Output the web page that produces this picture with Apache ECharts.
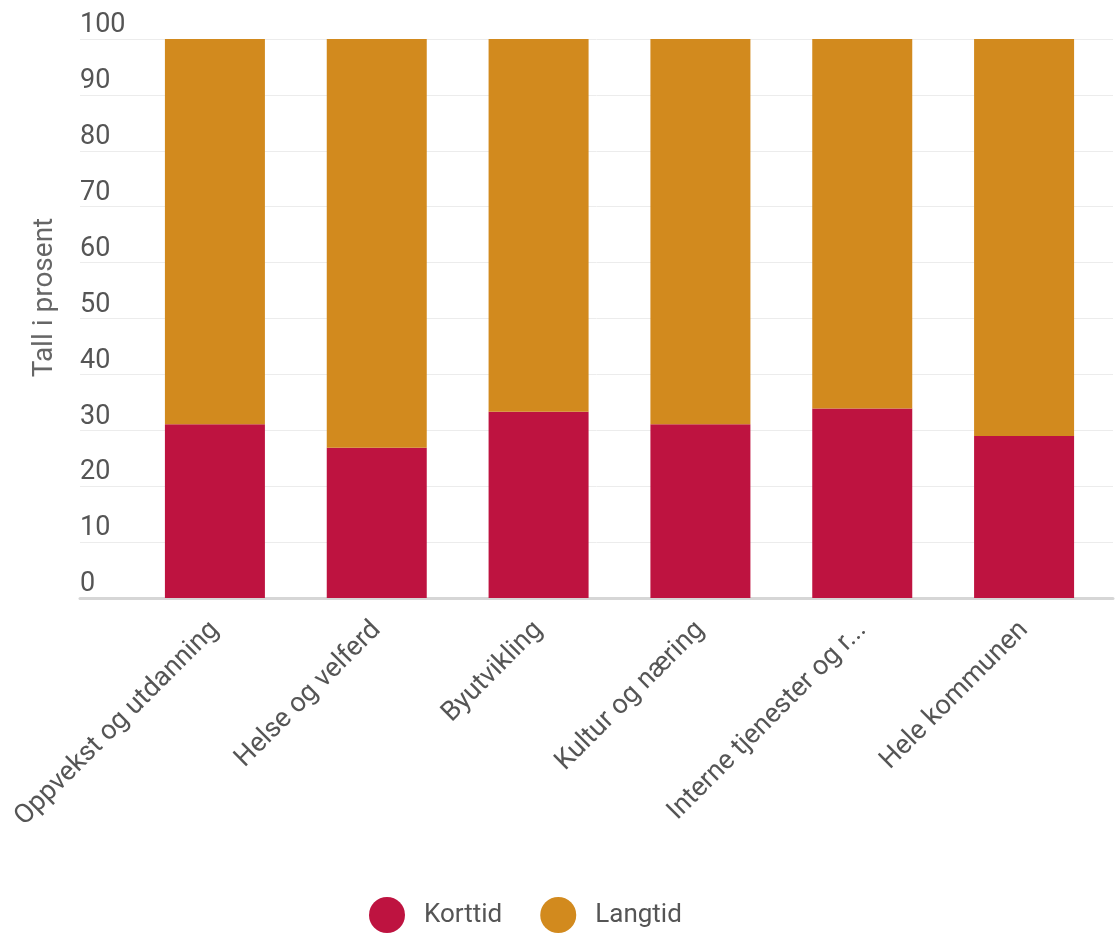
<!DOCTYPE html>
<html>
<head>
<meta charset="utf-8">
<script src="https://cdn.jsdelivr.net/npm/echarts@6/dist/echarts.min.js"></script>
<style>
  html, body { margin: 0; padding: 0; background: #fff; }
  #chart { width: 1117px; height: 938px; }
</style>
</head>
<body>
<div id="chart"></div>
<script>
var categories = ['Oppvekst og utdanning', 'Helse og velferd', 'Byutvikling', 'Kultur og næring', 'Interne tjenester og r...', 'Hele kommunen']
var korttid = [31.1, 26.9, 33.3, 31.1, 33.9, 29.0]
var langtid = [68.9, 73.1, 66.7, 68.9, 66.1, 71.0]
var yTicks = [0, 10, 20, 30, 40, 50, 60, 70, 80, 90, 100]

var chart = echarts.init(document.getElementById('chart'))

var textFont = 'Roboto, "Noto Sans", sans-serif'

var option = {
  textStyle: { fontFamily: textFont },
  animation: false,
  legend: {
    bottom: 0,
    left: 364,
    icon: 'circle',
    itemWidth: 36,
    itemHeight: 36,
    itemGap: 38,
    textStyle: { fontSize: 26, color: '#555', fontFamily: textFont, padding: [0, 0, 0, 14] },
    data: ['Korttid', 'Langtid']
  },
  grid: [
    // bars
    { left: 134, right: 12, top: 39, bottom: 340 },
    // background lines (span wider than the bars)
    { left: 80, right: 4, top: 39, bottom: 340 }
  ],
  xAxis: [
    {
      type: 'category',
      gridIndex: 0,
      data: categories,
      axisLine: { show: false },
      axisTick: { show: false },
      axisLabel: {
        rotate: 45,
        interval: 0,
        margin: 28,
        fontSize: 27,
        color: '#555',
        fontFamily: textFont
      }
    },
    {
      type: 'category',
      gridIndex: 1,
      data: [''],
      axisLine: { show: true, lineStyle: { color: '#d6d6d6', width: 3 } },
      axisTick: { show: false },
      axisLabel: { show: false }
    }
  ],
  yAxis: [
    {
      type: 'value',
      gridIndex: 0,
      min: 0,
      max: 100,
      interval: 10,
      name: 'Tall i prosent',
      nameLocation: 'middle',
      nameGap: 75,
      nameTextStyle: { fontSize: 28, color: '#666', fontFamily: textFont, padding: [0, 0, 0, 42] },
      axisLine: { show: false },
      axisTick: { show: false },
      axisLabel: { show: false },
      splitLine: { show: false }
    },
    {
      type: 'value',
      gridIndex: 1,
      min: yTicks[0],
      max: yTicks[yTicks.length - 1],
      interval: 10,
      axisLine: { show: false },
      axisTick: { show: false },
      axisLabel: {
        inside: true,
        margin: 0,
        align: 'left',
        verticalAlign: 'bottom',
        padding: [0, 0, 0, 0],
        fontSize: 27,
        color: '#555',
        fontFamily: textFont
      },
      splitLine: { show: true, lineStyle: { color: '#ececec', width: 1 } }
    }
  ],
  series: [
    {
      name: 'Korttid',
      type: 'bar',
      stack: 'total',
      xAxisIndex: 0,
      yAxisIndex: 0,
      barWidth: 100,
      data: korttid,
      itemStyle: { color: '#be1340' },
      z: 3
    },
    {
      name: 'Langtid',
      type: 'bar',
      stack: 'total',
      xAxisIndex: 0,
      yAxisIndex: 0,
      barWidth: 100,
      data: langtid,
      itemStyle: { color: '#d28a1e' },
      z: 3
    }
  ]
}

chart.setOption(option)
</script>
</body>
</html>
